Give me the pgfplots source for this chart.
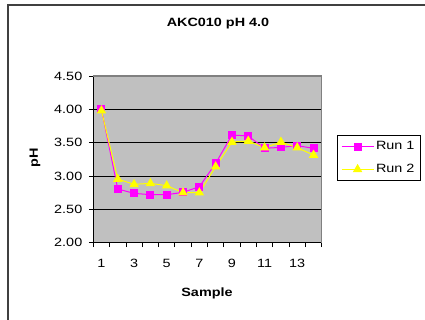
\documentclass[border=0pt]{standalone}
\usepackage{fontspec}
\setmainfont{Liberation Sans}[FakeStretch=1.2]
\usepackage{pgfplots}
\pgfplotsset{compat=1.18}
\definecolor{plotgray}{HTML}{C0C0C0}
\definecolor{bordergray}{HTML}{808080}
\definecolor{runone}{HTML}{FF00FF}
\definecolor{runtwo}{HTML}{FFFF00}
\begin{document}
\begin{tikzpicture}[x=1pt,y=1pt]
\useasboundingbox (0,0) rectangle (425,320);
\begin{scope}
\clip (0,0) rectangle (425,320);
\draw[line width=1.5pt, draw=black!75] (8,-10) rectangle (440,315);
\end{scope}
\node[font=\fontsize{12}{14}\selectfont\bfseries] at (218,296) {AKC010 pH 4.0};
\node[font=\fontsize{12}{14}\selectfont\bfseries] at (207,27) {Sample};
\node[font=\fontsize{12}{14}\selectfont\bfseries, rotate=90] at (35,162) {pH};
\begin{axis}[
  at={(93.3pt,77.3pt)}, anchor=south west,
  scale only axis, width=228.4pt, height=166.7pt,
  xmin=0.5, xmax=14.5, ymin=2, ymax=4.5,
  axis lines*=left,
  axis line style={black, line width=1pt},
  axis background/.style={fill=plotgray},
  after end axis/.code={\draw[bordergray, line width=1.5pt] (rel axis cs:0,1) -- (rel axis cs:1,1) -- (rel axis cs:1,0);},
  tick align=outside,
  major tick length=4.5pt,
  tick style={black, line width=0.8pt},
  ytick={2,2.5,3,3.5,4,4.5},
  ymajorgrids,
  major grid style={black, line width=0.8pt},
  xtick={0.5,1.5,...,14.5},
  xticklabels={},
  extra x ticks={1,3,5,7,9,11,13},
  extra x tick style={major tick length=0pt, grid=none, xticklabel style={yshift=-13pt}},
  /pgf/number format/assume math mode=true,
  yticklabel style={xshift=-3pt, /pgf/number format/fixed, /pgf/number format/fixed zerofill, /pgf/number format/precision=2},
  tick label style={font=\fontsize{12}{14}\selectfont},
  legend style={at={(1.0656,0.508)}, anchor=west, draw=black, line width=0.8pt, fill=white,
    font=\fontsize{12}{14}\selectfont, row sep=9pt, inner xsep=4pt, inner ysep=4pt},
  legend cell align=left,
  legend image code/.code={\draw[mark repeat=2,mark phase=2,#1] plot coordinates {(0pt,0pt) (16pt,0pt) (32pt,0pt)};},
]
\addplot[runone, line width=1pt, mark=square*, mark size=3.5pt, mark options={fill=runone, draw=runone}]
coordinates {(1,4.00) (2,2.805) (3,2.74) (4,2.72) (5,2.72) (6,2.755) (7,2.84) (8,3.19) (9,3.615) (10,3.60) (11,3.415) (12,3.43) (13,3.455) (14,3.415)};
\addlegendentry{Run 1}
\addplot[runtwo, line width=1pt, mark=triangle*, mark size=4.5pt, mark options={fill=runtwo, draw=runtwo}]
coordinates {(1,3.98) (2,2.955) (3,2.875) (4,2.89) (5,2.855) (6,2.75) (7,2.75) (8,3.14) (9,3.51) (10,3.525) (11,3.425) (12,3.51) (13,3.425) (14,3.315)};
\addlegendentry{Run 2}
\end{axis}
\end{tikzpicture}
\end{document}
